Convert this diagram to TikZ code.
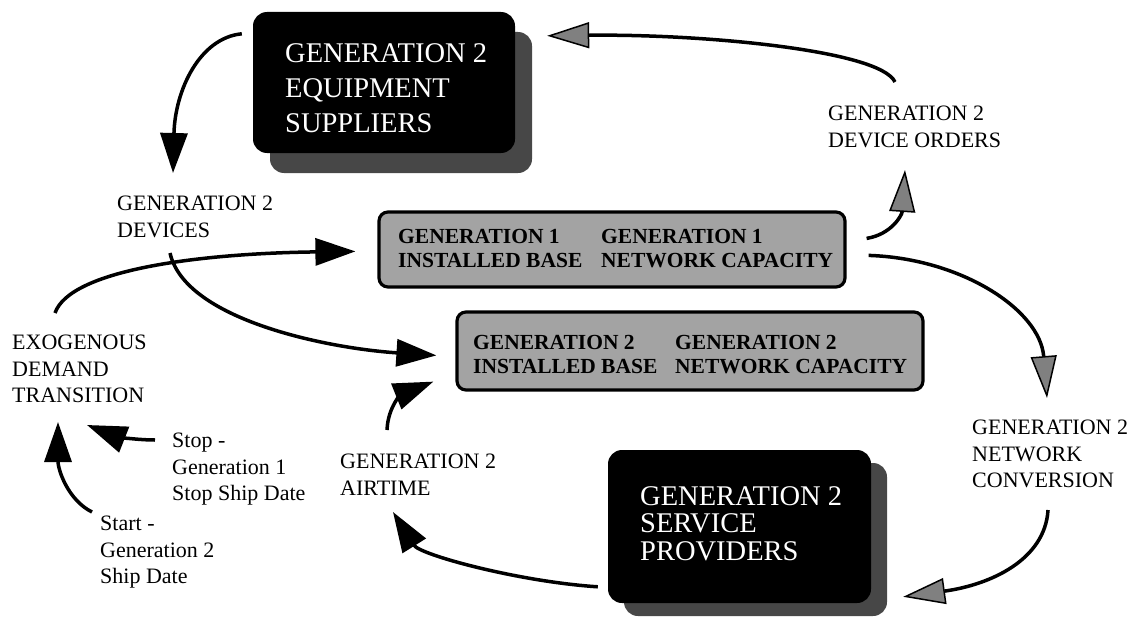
\documentclass[tikz,border=0pt]{standalone}
\usepackage{fontspec}
\setmainfont{Liberation Serif}
\usetikzlibrary{arrows.meta,shadows}

\begin{document}
\begin{tikzpicture}[x=1pt,y=-1pt,
  lbl/.style={anchor=north west, inner sep=0pt, align=left,
    font=\fontsize{22}{26.5}\selectfont},
  darkbox/.style={fill=black, rounded corners=14pt, inner sep=0pt},
  revtext/.style={anchor=north west, inner sep=0pt, align=left, text=white},
  greybox/.style={draw=black, line width=3.2pt, fill=black!36,
    rounded corners=9pt, inner sep=0pt},
  boxtext/.style={anchor=north west, inner sep=0pt, align=left,
    font=\bfseries\fontsize{21.5}{24}\selectfont},
  link/.style={line width=3.5pt, -{Triangle[length=40pt,width=27pt]}},
  greylink/.style={line width=3.5pt,
    -{Triangle[length=42pt,width=26pt,fill=black!50,line width=1.5pt]}},
]
\useasboundingbox (0,0) rectangle (1137,618);

% stock holders drawn as dark cards with a halftone shadow
\node[darkbox, minimum width=262pt, minimum height=141pt,
  drop shadow={shadow xshift=17pt, shadow yshift=-20pt, fill=black!72, opacity=1}]
  (sup) at (384,82.5) {};
\node[revtext, font=\fontsize{28.5}{35}\selectfont] (supT) at (285,43)
  {GENERATION 2\\EQUIPMENT\\SUPPLIERS};

\node[darkbox, minimum width=263pt, minimum height=153pt,
  drop shadow={shadow xshift=16pt, shadow yshift=-13pt, fill=black!72, opacity=1}]
  (prov) at (739.5,526.5) {};
\node[revtext, font=\fontsize{28.5}{27.5}\selectfont] (provT) at (640,486)
  {GENERATION 2\\SERVICE\\PROVIDERS};

% installed base / network capacity panels
\node[greybox, minimum width=466pt, minimum height=75pt] (g1) at (612,249.5) {};
\node[boxtext] (g1a) at (398,229.5) {GENERATION 1\\INSTALLED BASE};
\node[boxtext] (g1b) at (601,229.5) {GENERATION 1\\NETWORK CAPACITY};

\node[greybox, minimum width=466pt, minimum height=78pt] (g2) at (690,351) {};
\node[boxtext] (g2a) at (473,335) {GENERATION 2\\INSTALLED BASE};
\node[boxtext] (g2b) at (675,335) {GENERATION 2\\NETWORK CAPACITY};

% flow labels
\node[lbl] (dev) at (117,196) {GENERATION 2\\DEVICES};
\node[lbl] (ord) at (828,106) {GENERATION 2\\DEVICE ORDERS};
\node[lbl] (exo) at (12,335) {EXOGENOUS\\DEMAND\\TRANSITION};
\node[lbl] (stoplbl) at (172,433) {Stop -\\Generation 1\\Stop Ship Date};
\node[lbl] (startlbl) at (100,516) {Start -\\Generation 2\\Ship Date};
\node[lbl] (air) at (340,454) {GENERATION 2\\AIRTIME};
\node[lbl] (netc) at (972,420) {GENERATION 2\\NETWORK\\CONVERSION};

% flows
\draw[link] ([shift={(-11,22)}]sup.north west)
  .. controls +(-42,4) and +(2,-83) .. ([shift={(56,-23)}]dev.north west);
\draw[greylink] ([shift={(67,-24)}]ord.north west)
  .. controls +(-15,-32) and +(153,-2) .. ([shift={(32,24)}]sup.north east);
\draw[greylink] ([shift={(20,28)}]g1.north east)
  .. controls +(25,-4) and +(-3,45) .. ([shift={(77,64)}]ord.north west);
\draw[greylink] ([shift={(22,45)}]g1.north east)
  .. controls +(93,3) and +(-7,-88) .. ([shift={(75,-22)}]netc.north west);
\draw[greylink] ([shift={(76,90)}]netc.north west)
  .. controls +(-3,50) and +(87,-12) .. ([shift={(32,147)}]prov.north east);
\draw[link] ([shift={(-10,137)}]prov.north west)
  .. controls +(-78,-5) and +(27,43) .. ([shift={(53,58)}]air.north west);
\draw[link] ([shift={(47,-24)}]air.north west)
  .. controls +(1,-25) and +(-30,12) .. ([shift={(-22,-10)}]g2.south west);
\draw[link] ([shift={(53,57)}]dev.north west)
  .. controls +(15,67) and +(-108,-7) .. ([shift={(-19,45)}]g2.north west);
\draw[link] ([shift={(43,-22)}]exo.north west)
  .. controls +(15,-43) and +(-157,2) .. ([shift={(-22,41)}]g1.north west);
\draw[link] ([shift={(-17,7)}]stoplbl.north west)
  .. controls +(-20,0) and +(28,11) .. ([shift={(75,90)}]exo.north west);
\draw[link] ([shift={(-8,-4)}]startlbl.north west)
  .. controls +(-24,-12) and +(0,48) .. ([shift={(46,87)}]exo.north west);
\end{tikzpicture}
\end{document}
